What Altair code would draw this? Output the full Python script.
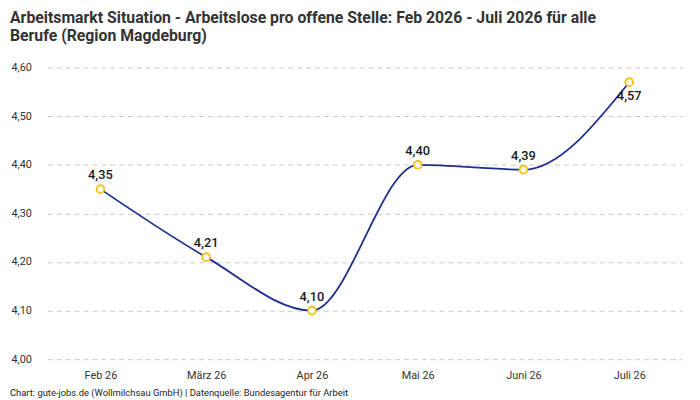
import altair as alt
import pandas as pd

months = ["Feb 26", "März 26", "Apr 26", "Mai 26", "Juni 26", "Juli 26"]
values = [4.35, 4.21, 4.10, 4.40, 4.39, 4.57]
label_below = [False, False, False, False, False, True]

df = pd.DataFrame({"month": months, "value": values, "below": label_below})

FONT = "Roboto"
W, H = 642, 295

x = alt.X("month:N", sort=months, title=None,
          scale=alt.Scale(type="point", padding=0.5),
          axis=alt.Axis(labelAngle=0, domain=False, ticks=False, grid=False,
                        labelPadding=11, labelFontSize=11, labelColor="#333333",
                        labelFont=FONT))
y = alt.Y("value:Q", title=None,
          scale=alt.Scale(domain=[4.0, 4.6], nice=False, zero=False),
          axis=alt.Axis(values=[4.0, 4.1, 4.2, 4.3, 4.4, 4.5, 4.6],
                        labelExpr="replace(format(datum.value, '.2f'), '.', ',')",
                        domain=False, ticks=False, tickSize=0, labelPadding=37,
                        labelAlign="left", labelFontSize=11, labelColor="#333333",
                        labelFont=FONT, grid=True, gridDash=[5, 4],
                        gridColor="#c8c8c8", gridWidth=1))

base = alt.Chart(df).encode(x=x, y=y)

line = base.mark_line(interpolate="monotone", color="#1f2d8f", strokeWidth=1.8)
points = base.mark_point(shape="circle", filled=True, fill="white",
                         stroke="#f7c21b", strokeWidth=2, size=60, opacity=1)

lab = base.transform_calculate(
    lbl="replace(format(datum.value, '.2f'), '.', ',')"
)
labels_above = lab.transform_filter("!datum.below").mark_text(
    dy=-14, font=FONT, fontSize=13, fontWeight=500, color="#1a1a1a"
).encode(text="lbl:N")
labels_below = lab.transform_filter("datum.below").mark_text(
    dy=14, font=FONT, fontSize=13, fontWeight=500, color="#1a1a1a"
).encode(text="lbl:N")

footer = alt.Chart(pd.DataFrame({"t": ["Chart: gute-jobs.de (Wollmilchsau GmbH) | Datenquelle: Bundesagentur für Arbeit"]})).mark_text(
    align="left", baseline="middle", font=FONT, fontSize=9.5, color="#222222"
).encode(x=alt.value(-38), y=alt.value(H + 34), text="t:N")

chart = alt.layer(line, points, labels_above, labels_below, footer).properties(
    width=W, height=H,
    autosize=alt.AutoSizeParams(type="none"),
    padding={"left": 40, "top": 58, "right": 10, "bottom": 40},
    title=alt.TitleParams(
        text=["Arbeitsmarkt Situation - Arbeitslose pro offene Stelle: Feb 2026 - Juli 2026 für alle",
              "Berufe (Region Magdeburg)"],
        anchor="start", frame="group", dx=-38, offset=18,
        font=FONT, fontSize=16, fontWeight="bold", color="#333333", lineHeight=18,
    ),
).configure_view(stroke=None)

chart.save("out.html", embed_options={"renderer": "svg", "actions": False})
